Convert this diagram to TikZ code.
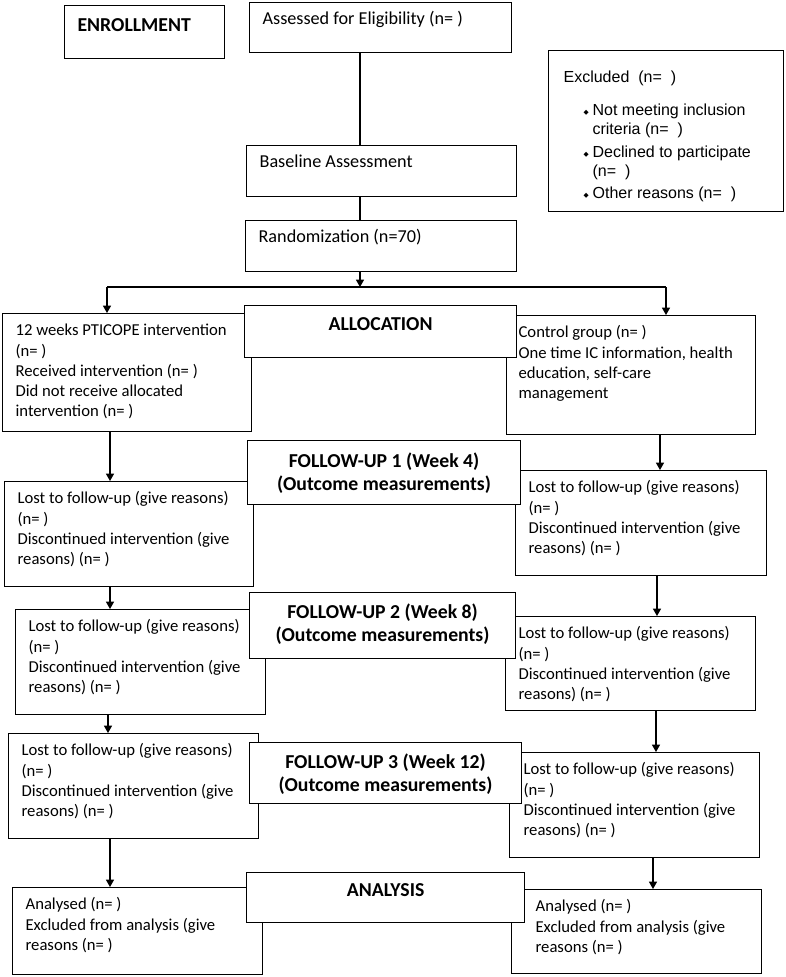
\documentclass[tikz,border=0pt]{standalone}
\usepackage{fontspec}
\setmainfont{Carlito}
\newfontfamily\arialfont{Liberation Sans}
\newfontfamily\symfont{DejaVu Sans}
\usetikzlibrary{arrows.meta}

\newlength{\px}
\setlength{\px}{0.75pt}

% box contents: width, height, left pad, top pad, text
\newcommand{\lefttext}[5]{\parbox[c][#2\px][t]{#1\px}{\vspace*{#4\px}\raggedright\leftskip=#3\px\strut#5}}
\newcommand{\midtext}[4]{\parbox[c][#2\px][t]{#1\px}{\vspace*{#3\px}\centering\strut#4}}
\newcommand{\bul}{\makebox[9\px][l]{\raisebox{1.2pt}{\symfont\fontsize{5}{5}\selectfont ◆}}}

\tikzset{
	box/.style={draw, line width=0.9pt, fill=white, inner sep=0pt, anchor=north west, font=\fontsize{12.5}{15.2}\selectfont},
	bigbox/.style={box, font=\fontsize{13.65}{15.2}\selectfont},
	stage/.style={box, font=\fontsize{14.8}{17.25}\selectfont\bfseries},
	link/.style={line width=0.9pt},
	arr/.style={line width=0.9pt, -{Triangle[length=5.5pt,width=6pt]}}
}

\begin{document}
\begin{tikzpicture}[x=\px, y=-\px]
	\fill[white] (0,0) rectangle (785,977);
	\useasboundingbox (0,0) rectangle (785,977);

	% enrollment
	\node[stage] (enroll) at (64,5) {\lefttext{160}{53}{13}{10}{ENROLLMENT}};
	\node[bigbox] (assess) at (249,2) {\lefttext{262}{50}{13}{8}{Assessed for Eligibility (n= )}};
	\node[box, font=\arialfont\fontsize{12}{14.25}\selectfont] (excl) at (548,50) {\lefttext{235}{161}{15}{19}{Excluded\ \ (n=\ \ )\\[14\px]
		\hspace*{20\px}\bul Not meeting inclusion\\
		\hspace*{29\px}criteria (n=\ \ )\\[4\px]
		\hspace*{20\px}\bul Declined to participate\\
		\hspace*{29\px}(n=\ \ )\\[3\px]
		\hspace*{20\px}\bul Other reasons (n=\ \ )}};
	\node[bigbox] (base) at (246,145) {\lefttext{270}{51}{13}{8}{Baseline Assessment}};
	\node[bigbox] (rand) at (245,220) {\lefttext{271}{51}{13}{8}{Randomization (n=70)}};

	% two arms
	\node[box] (lb1) at (2,313) {\lefttext{249}{118}{13}{8}{12 weeks PTICOPE intervention\\(n= )\\Received intervention (n= )\\Did not receive allocated\\intervention (n= )}};
	\node[box] (rb1) at (506,315) {\lefttext{249}{119}{12}{8}{Control group (n= )\\One time IC information, health\\education, self-care\\management}};
	\node[box] (lb2) at (4,481) {\lefttext{249}{105}{13}{8}{Lost to follow-up (give reasons)\\(n= )\\Discontinued intervention (give\\reasons) (n= )}};
	\node[box] (rb2) at (515,470) {\lefttext{251}{105}{13}{8}{Lost to follow-up (give reasons)\\(n= )\\Discontinued intervention (give\\reasons) (n= )}};
	\node[box] (lb3) at (15,609) {\lefttext{250}{105}{13}{8}{Lost to follow-up (give reasons)\\(n= )\\Discontinued intervention (give\\reasons) (n= )}};
	\node[box] (rb3) at (505,616) {\lefttext{250}{94}{13}{8}{Lost to follow-up (give reasons)\\(n= )\\Discontinued intervention (give\\reasons) (n= )}};
	\node[box] (lb4) at (8,733) {\lefttext{250}{105}{13}{8}{Lost to follow-up (give reasons)\\(n= )\\Discontinued intervention (give\\reasons) (n= )}};
	\node[box] (rb4) at (509,752) {\lefttext{250}{105}{14}{8}{Lost to follow-up (give reasons)\\(n= )\\Discontinued intervention (give\\reasons) (n= )}};
	\node[box] (lb5) at (12,887) {\lefttext{250}{87}{13}{8}{Analysed (n= )\\Excluded from analysis (give\\reasons (n= )}};
	\node[box] (rb5) at (511,889) {\lefttext{250}{84}{24}{8}{Analysed (n= )\\Excluded from analysis (give\\reasons (n= )}};

	% stage labels, on top of the arms
	\node[stage] (alloc) at (244,305) {\midtext{272}{52}{9}{ALLOCATION}};
	\node[stage] (fu1) at (247,440) {\midtext{273}{64}{11}{FOLLOW-UP 1 (Week 4)\\(Outcome measurements)}};
	\node[stage] (fu2) at (249,592) {\midtext{266}{66}{10}{FOLLOW-UP 2 (Week 8)\\(Outcome measurements)}};
	\node[stage] (fu3) at (249,742) {\midtext{272}{61}{10}{FOLLOW-UP 3 (Week 12)\\(Outcome measurements)}};
	\node[stage] (anal) at (246,872) {\midtext{278}{50}{8}{ANALYSIS}};

	% connectors
	\coordinate (split) at (360,287);
	\coordinate (lsplit) at (107,287);
	\coordinate (rsplit) at (666,287);
	\draw[link] (assess.south -| split) -- (base.north -| split);
	\draw[link] (base.south -| split) -- (rand.north -| split);
	\draw[arr] (rand.south -| split) -- (split);
	\draw[link] (lsplit) -- (rsplit);
	\draw[arr] (lsplit) -- (lsplit |- lb1.north);
	\draw[arr] (rsplit) -- (rsplit |- rb1.north);

	\draw[arr] (lb1.south -| 110,0) -- (lb2.north -| 110,0);
	\draw[arr] (lb2.south -| 110,0) -- (lb3.north -| 110,0);
	\draw[arr] (lb3.south -| 108,0) -- (lb4.north -| 108,0);
	\draw[arr] (lb4.south -| 110,0) -- (lb5.north -| 110,0);
	\draw[arr] (rb1.south -| 660,0) -- (rb2.north -| 660,0);
	\draw[arr] (rb2.south -| 657,0) -- (rb3.north -| 657,0);
	\draw[arr] (rb3.south -| 656,0) -- (rb4.north -| 656,0);
	\draw[arr] (rb4.south -| 653,0) -- (rb5.north -| 653,0);
\end{tikzpicture}
\end{document}
